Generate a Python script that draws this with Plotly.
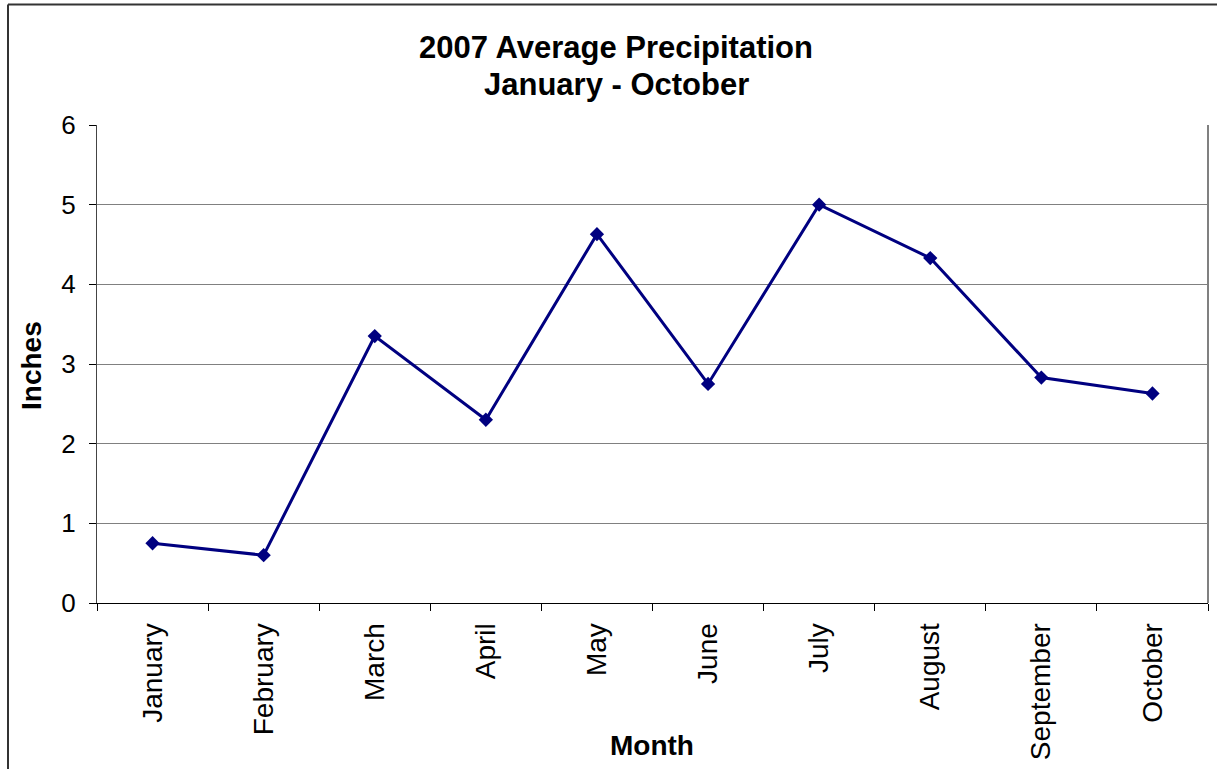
import plotly.graph_objects as go

months = ["January", "February", "March", "April", "May", "June",
          "July", "August", "September", "October"]
inches = [0.75, 0.6, 3.35, 2.3, 4.63, 2.75, 5.0, 4.33, 2.83, 2.63]
y_ticks = [0, 1, 2, 3, 4, 5, 6]
title_lines = ["2007 Average Precipitation", "January - October"]

W, H = 1217, 769
L, R, T, B = 97, 9, 125, 164
pw, ph = W - L - R, H - T - B


def px_x(p):
    return (p - L) / pw


def px_y(p):
    return (H - B - p) / ph


font = "Liberation Sans, Arial, sans-serif"

fig = go.Figure()
fig.add_trace(go.Scatter(
    x=months, y=inches, mode="lines+markers",
    line=dict(color="#000080", width=3),
    marker=dict(symbol="diamond", size=11, color="#000080"),
    showlegend=False,
))


def label(text, x, y, size, angle=0):
    return dict(text=text, x=px_x(x), y=px_y(y), xref="paper", yref="paper",
                showarrow=False, xanchor="center", yanchor="middle",
                textangle=angle, font=dict(size=size, family=font))


ann = [
    label("<b>%s</b>" % title_lines[0], 616, 47, 31),
    label("<b>%s</b>" % title_lines[1], 616, 84, 31),
    label("<b>Inches</b>", 32, 367, 28, -90),
    label("<b>Month</b>", 652, 748, 28),
]

fig.update_layout(
    width=W, height=H,
    margin=dict(l=L, r=R, t=T, b=B, pad=0),
    paper_bgcolor="white", plot_bgcolor="white",
    font=dict(family=font, color="black", size=26),
    xaxis=dict(
        type="category", range=[-0.5, len(months) - 0.5],
        tickson="boundaries", ticks="outside", ticklen=7,
        tickcolor="black", tickangle=-90, showgrid=False,
        showline=True, linecolor="black", linewidth=1,
        tickfont=dict(size=28), ticklabelstandoff=8,
    ),
    yaxis=dict(
        range=[0, 6], tickvals=y_ticks, ticks="outside", ticklen=7,
        tickcolor="black", showgrid=True, gridcolor="#808080", gridwidth=1,
        showline=True, linecolor="#444444", linewidth=1, zeroline=False,
        tickfont=dict(size=26), ticklabelstandoff=8,
    ),
    annotations=ann,
    shapes=[
        dict(type="line", xref="paper", yref="paper", x0=1, x1=1, y0=0, y1=1,
             line=dict(color="#808080", width=2)),
        dict(type="line", xref="paper", yref="paper",
             x0=px_x(8), x1=px_x(W + 5), y0=px_y(4), y1=px_y(4),
             line=dict(color="#333333", width=2)),
        dict(type="line", xref="paper", yref="paper",
             x0=px_x(8), x1=px_x(8), y0=px_y(4), y1=px_y(H + 5),
             line=dict(color="#333333", width=2)),
    ],
)

fig.write_html("out.html", config={"displayModeBar": False},
               post_script="document.body.style.margin='0';")
